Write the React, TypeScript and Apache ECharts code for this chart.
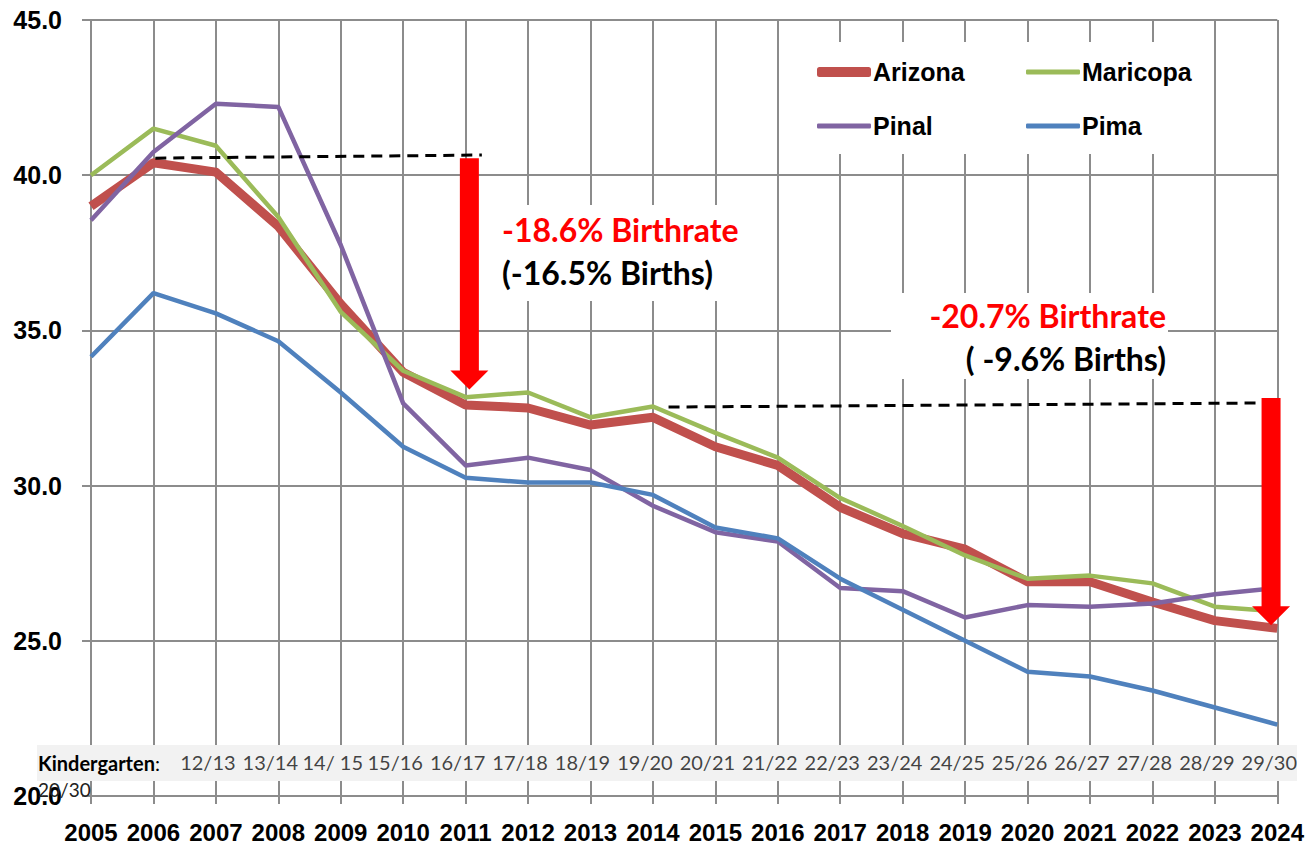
import React, { useEffect, useRef } from "react";
import * as echarts from "echarts";

const years = [2005, 2006, 2007, 2008, 2009, 2010, 2011, 2012, 2013, 2014, 2015, 2016, 2017, 2018, 2019, 2020, 2021, 2022, 2023, 2024];
const arizona = [39.0, 40.4, 40.1, 38.35, 35.85, 33.65, 32.6, 32.5, 31.95, 32.2, 31.25, 30.65, 29.3, 28.45, 27.95, 26.9, 26.9, 26.25, 25.65, 25.4];
const maricopa = [40.0, 41.5, 40.95, 38.65, 35.6, 33.7, 32.85, 33.0, 32.2, 32.55, 31.7, 30.9, 29.6, 28.7, 27.75, 27.0, 27.1, 26.85, 26.1, 25.95];
const pinal = [38.55, 40.75, 42.3, 42.2, 37.75, 32.65, 30.65, 30.9, 30.5, 29.35, 28.5, 28.2, 26.7, 26.6, 25.75, 26.15, 26.1, 26.2, 26.5, 26.7];
const pima = [34.15, 36.2, 35.55, 34.65, 33.0, 31.25, 30.25, 30.1, 30.1, 29.7, 28.65, 28.3, 27.0, 26.0, 25.0, 24.0, 23.85, 23.4, 22.85, 22.3];

const kinderYears = [2007, 2008, 2009, 2010, 2011, 2012, 2013, 2014, 2015, 2016, 2017, 2018, 2019, 2020, 2021, 2022, 2023, 2024];
const kinderLabels = ["12/13", "13/14", "14/ 15", "15/16", "16/17", "17/18", "18/19", "19/20", "20/21", "21/22", "22/23", "23/24", "24/25", "25/26", "26/27", "27/28", "28/29", "29/30"];
const kinderRowValue = 21.1;

// dashed reference lines [year, value]
const dash1 = [[2006.03, 40.55], [2011.26, 40.65]];
const dash2 = [[2014.25, 32.53], [2023.67, 32.66]];
// arrows: [year, topValue, tipValue]
const arrows = [[2011.06, 40.55, 33.1], [2023.9, 32.82, 25.5]];

const BOLDF = "'Liberation Sans', Arial, sans-serif";
const CAL = "Lato, 'Open Sans', sans-serif";
const GRID = "#8c8c8c";

const pairs = (vals: number[]) => years.map((y, i) => [y, vals[i]]);

export default function App() {
  const ref = useRef<HTMLDivElement>(null);
  useEffect(() => {
    if (!ref.current) return;
    const chart = echarts.init(ref.current, undefined, { renderer: "svg" });
    const lineSeries = (name: string, data: number[], color: string, width: number) => ({
      name,
      type: "line",
      data: pairs(data),
      showSymbol: false,
      symbol: "none",
      lineStyle: { color, width, join: "round" },
      itemStyle: { color },
      z: 2,
    });
    const legendItem = (name: string, left: number, top: number, h: number) => ({
      data: [name],
      left,
      top,
      padding: 0,
      icon: "roundRect",
      itemWidth: 54,
      itemHeight: h,
      itemGap: 0,
      textStyle: { fontFamily: BOLDF, fontWeight: "bold", fontSize: 25, color: "#000", lineHeight: 30, padding: [0, 0, 0, -3] },
      selectedMode: false,
      z: 6,
    });
    chart.setOption({
      animation: false,
      backgroundColor: "#fff",
      grid: { left: 91, right: 29, top: 20, bottom: 50 },
      xAxis: {
        type: "value",
        min: 2005,
        max: 2024,
        interval: 1,
        axisLine: { show: true, lineStyle: { color: GRID, width: 2 } },
        axisTick: { show: true, length: 8, lineStyle: { color: GRID, width: 2 } },
        splitLine: { show: true, lineStyle: { color: GRID, width: 2 } },
        axisLabel: {
          formatter: (v: number) => String(v),
          fontFamily: BOLDF, fontWeight: "bold", fontSize: 24, color: "#000", margin: 24,
          hideOverlap: false, showMinLabel: true, showMaxLabel: true,
        },
      },
      yAxis: {
        type: "value",
        min: 20,
        max: 45,
        interval: 5,
        axisLine: { show: true, lineStyle: { color: GRID, width: 2 } },
        axisTick: { show: true, length: 9, lineStyle: { color: GRID, width: 2 } },
        splitLine: { show: true, lineStyle: { color: GRID, width: 2 } },
        axisLabel: { formatter: (v: number) => v.toFixed(1), fontFamily: BOLDF, fontWeight: "bold", fontSize: 25, color: "#000", margin: 29 },
      },
      legend: [
        legendItem("Arizona", 817, 57, 10),
        legendItem("Maricopa", 1026, 57, 5),
        legendItem("Pinal", 817, 111, 5),
        legendItem("Pima", 1026, 111, 5),
      ],
      graphic: [
        { type: "rect", shape: { x: 790, y: 42, width: 410, height: 112 }, style: { fill: "#fff" }, z: 3 },
        { type: "rect", shape: { x: 494, y: 205, width: 256, height: 96 }, style: { fill: "#fff" }, z: 3 },
        { type: "rect", shape: { x: 891, y: 293, width: 277, height: 86 }, style: { fill: "#fff" }, z: 3 },
        { type: "rect", shape: { x: 37, y: 745, width: 1260, height: 36 }, style: { fill: "#f2f2f2" }, z: 3 },
        {
          type: "text", x: 502, y: 229, z: 5,
          style: { text: "-18.6% Birthrate", fill: "#ff0000", font: `bold 32px ${CAL}`, textVerticalAlign: "middle" },
        },
        {
          type: "text", x: 502, y: 272, z: 5,
          style: { text: "(-16.5% Births)", fill: "#000", font: `bold 32px ${CAL}`, textVerticalAlign: "middle" },
        },
        {
          type: "text", x: 1166, y: 315, z: 5,
          style: { text: "-20.7% Birthrate", fill: "#ff0000", font: `bold 32px ${CAL}`, textVerticalAlign: "middle", textAlign: "right" },
        },
        {
          type: "text", x: 1166, y: 358, z: 5,
          style: { text: "( -9.6% Births)", fill: "#000", font: `bold 32px ${CAL}`, textVerticalAlign: "middle", textAlign: "right" },
        },
        {
          type: "text", x: 38, y: 763, z: 5,
          style: {
            text: "{b|Kindergarten}{n|:}",
            textVerticalAlign: "middle",
            rich: {
              b: { fill: "#000", fontFamily: CAL, fontWeight: "bold", fontSize: 20 },
              n: { fill: "#000", fontFamily: CAL, fontSize: 20 },
            },
          },
        },
        {
          type: "text", x: 38, y: 789, z: 5,
          style: { text: "20/30", fill: "#222", font: `19px ${CAL}`, textVerticalAlign: "middle" },
        },
      ],
      series: [
        lineSeries("Arizona", arizona, "#C0504D", 9),
        lineSeries("Maricopa", maricopa, "#9BBB59", 4.5),
        lineSeries("Pinal", pinal, "#8064A2", 4.5),
        lineSeries("Pima", pima, "#4F81BD", 4.5),
        {
          type: "line", data: dash1, showSymbol: false, symbol: "none", z: 3,
          lineStyle: { color: "#000", width: 3, type: [11, 7] }, silent: true,
        },
        {
          type: "line", data: dash2, showSymbol: false, symbol: "none", z: 3,
          lineStyle: { color: "#000", width: 3, type: [11, 7] }, silent: true,
        },
        {
          type: "custom",
          data: arrows,
          z: 5,
          silent: true,
          renderItem: (_p: any, api: any) => {
            const top = api.coord([api.value(0), api.value(1)]);
            const tip = api.coord([api.value(0), api.value(2)]);
            const shaftW = 19, headW = 38, headH = 19;
            return {
              type: "group",
              children: [
                { type: "rect", shape: { x: top[0] - shaftW / 2, y: top[1], width: shaftW, height: tip[1] - headH - top[1] + 1 }, style: { fill: "#ff0000" } },
                { type: "polygon", shape: { points: [[tip[0] - headW / 2, tip[1] - headH], [tip[0] + headW / 2, tip[1] - headH], [tip[0], tip[1]]] }, style: { fill: "#ff0000" } },
              ],
            };
          },
        },
        {
          type: "scatter",
          data: kinderYears.map((y) => [y, kinderRowValue]),
          symbolSize: 1,
          itemStyle: { color: "rgba(0,0,0,0)" },
          silent: true,
          z: 5,
          label: {
            show: true,
            position: "inside",
            offset: [-8, 0],
            formatter: (p: any) => kinderLabels[p.dataIndex],
            fontFamily: CAL,
            fontSize: 20,
            color: "#111",
          },
        },
      ],
    });
    return () => chart.dispose();
  }, []);
  return (
    <div
      ref={ref}
      style={{ position: "absolute", left: 0, top: 0, width: 1307, height: 846, background: "#fff" }}
    />
  );
}
